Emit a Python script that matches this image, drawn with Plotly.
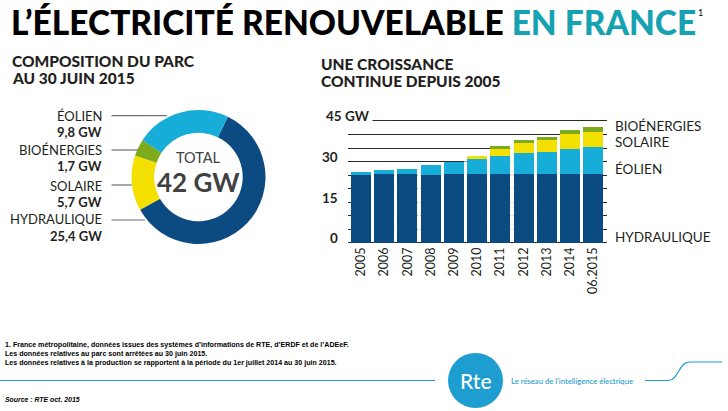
import plotly.graph_objects as go

W, H = 728, 411


def px(x):
    return x / W


def py(y):
    return 1 - y / H


# ---------------- DATA ----------------
years = ["2005", "2006", "2007", "2008", "2009", "2010",
         "2011", "2012", "2013", "2014", "06.2015"]
hydraulique = [25.4, 25.4, 25.4, 25.1, 25.4, 25.4, 25.4, 25.4, 25.4, 25.4, 25.4]
eolien = [0.6, 1.5, 2.0, 3.5, 4.6, 5.7, 6.8, 7.6, 8.3, 9.2, 9.8]
solaire = [0.0, 0.0, 0.0, 0.0, 0.0, 0.8, 2.4, 3.7, 4.2, 5.4, 5.7]
bioenergies = [0.0, 0.0, 0.0, 0.0, 0.0, 0.0, 1.3, 1.3, 1.3, 1.7, 1.7]

y_ticks = [0, 15, 30, 45]
y_tick_text = ["0", "15", "30", "45 GW"]

parc_labels = ["HYDRAULIQUE", "SOLAIRE", "BIOÉNERGIES", "ÉOLIEN"]
parc_values = [25.4, 5.7, 1.7, 9.8]
parc_value_text = ["25,4 GW", "5,7 GW", "1,7 GW", "9,8 GW"]
parc_total_text = "42 GW"

# ---------------- STYLE ----------------
NAVY = "#0b4b82"
LIGHTBLUE = "#16aed8"
YELLOW = "#f4e000"
GREEN = "#7eab1e"
TEAL = "#17a2b2"
RTE_BLUE = "#1d9dd0"
TXT = "#231f20"
FONT = "Lato"

fig = go.Figure()

# Donut
fig.add_trace(go.Pie(
    values=parc_values, labels=parc_labels, hole=0.66, sort=False,
    direction="clockwise", rotation=26,
    marker=dict(colors=[NAVY, YELLOW, GREEN, LIGHTBLUE], line=dict(width=0)),
    textinfo="none", showlegend=False,
    domain=dict(x=[px(131.5), px(265.5)], y=[py(244), py(110)]),
))

# Stacked bars
for name, vals, col in [("Hydraulique", hydraulique, NAVY),
                        ("Éolien", eolien, LIGHTBLUE),
                        ("Solaire", solaire, YELLOW),
                        ("Bioénergies", bioenergies, GREEN)]:
    fig.add_trace(go.Bar(x=years, y=vals, name=name, marker=dict(color=col, line=dict(width=0)),
                         showlegend=False, xaxis="x", yaxis="y"))

totals = [h + e + s + b for h, e, s, b in zip(hydraulique, eolien, solaire, bioenergies)]

shapes = []
# white separators between bars (hide gridlines in gaps)
for i in range(len(years) - 1):
    shapes.append(dict(type="line", xref="x", yref="y", layer="between",
                       x0=i + 0.5, x1=i + 0.5, y0=0.35, y1=min(totals[i], totals[i + 1]),
                       line=dict(color="white", width=3.4)))

# donut leader lines
leader_y = [220, 185, 150, 115.7]
leader_x1 = [145, 131.7, 138, 166.7]
for yy, xx in zip(leader_y, leader_x1):
    shapes.append(dict(type="line", xref="paper", yref="paper",
                       x0=px(111.5), x1=px(xx), y0=py(yy), y1=py(yy),
                       line=dict(color="#6d6e71", width=1.2)))

# footer decoration
shapes.append(dict(type="line", xref="paper", yref="paper", x0=px(0), x1=px(435),
                   y0=py(380.5), y1=py(380.5), line=dict(color=RTE_BLUE, width=1.2)))
path = "M {},{} L {},{} C {},{} {},{} {},{} L {},{}".format(
    px(645), py(380.5), px(668), py(380.5),
    px(679), py(380.5), px(678), py(362), px(690), py(362), px(722), py(362))
shapes.append(dict(type="path", xref="paper", yref="paper", path=path,
                   line=dict(color=RTE_BLUE, width=1.2)))
shapes.append(dict(type="circle", xref="paper", yref="paper",
                   x0=px(448), x1=px(503), y0=py(408), y1=py(353),
                   fillcolor=RTE_BLUE, line=dict(width=0)))

ann = []


def A(text, x, y, size, color=TXT, weight=400, xanchor="left", yanchor="middle", **kw):
    d = dict(text=text, xref="paper", yref="paper", x=px(x), y=py(y), showarrow=False,
             xanchor=xanchor, yanchor=yanchor,
             font=dict(family=FONT, size=size, color=color, weight=weight))
    d.update(kw)
    ann.append(d)


# Title
A("L’ÉLECTRICITÉ RENOUVELABLE <span style='color:%s'>EN FRANCE</span>" % TEAL,
  9, 22, 33.5, color="#000000", weight=900)
A("1", 696, 13, 9, color="#000000")

# Section headings
A("COMPOSITION DU PARC", 10, 61, 15.5, weight=900)
A("AU 30 JUIN 2015", 10, 78, 15.5, weight=900)
A("UNE CROISSANCE", 319, 64, 15.5, weight=900)
A("CONTINUE DEPUIS 2005", 319, 81, 15.5, weight=900)

# Donut labels
label_y = [219.5, 185.5, 150, 115.5]
for lab, val, yy in zip(parc_labels, parc_value_text, label_y):
    A(lab, 104, yy, 13, xanchor="right")
    A(val, 104, yy + 16, 13, weight=700, xanchor="right")

# Donut centre
A("TOTAL", 198.5, 157, 14.5, color="#414042", xanchor="center")
A(parc_total_text, 198.5, 182, 26, color="#414042", weight=700, xanchor="center")

# y tick labels
for v, t in zip(y_ticks, y_tick_text):
    if t.endswith("GW"):
        ann.append(dict(text=t, xref="paper", yref="y", x=px(323), y=v, yshift=4.5,
                        xanchor="left", yanchor="middle", showarrow=False,
                        bgcolor="white", borderpad=2,
                        font=dict(family=FONT, size=13.5, color=TXT, weight=700)))
    else:
        ann.append(dict(text=t, xref="paper", yref="y", x=px(340), y=v, yshift=4.5,
                        xanchor="right", yanchor="middle", showarrow=False,
                        font=dict(family=FONT, size=13.5, color=TXT, weight=700)))

# right-hand series labels
series_labels = ["BIOÉNERGIES", "SOLAIRE", "ÉOLIEN", "HYDRAULIQUE"]
series_label_y = [43.2, 37.4, 27.3, 2.0]
for t, v in zip(series_labels, series_label_y):
    ann.append(dict(text=t, xref="paper", yref="y", x=px(613), y=v,
                    xanchor="left", yanchor="middle", showarrow=False,
                    font=dict(family=FONT, size=13.5, color=TXT)))

# footer notes
notes = ["1. France métropolitaine, données issues des systèmes d’informations de RTE, d’ERDF et de l’ADEeF.",
         "Les données relatives au parc sont arrêtées au 30 juin 2015.",
         "Les données relatives à la production se rapportent à la période du 1er juillet 2014 au 30 juin 2015."]
ann.append(dict(text="<br>".join(notes), xref="paper", yref="paper", x=px(3), y=py(338.5),
                xanchor="left", yanchor="top", align="left", showarrow=False,
                font=dict(family="Liberation Sans", size=7.1, color="#000000", weight=700)))
ann.append(dict(text="<i>Source : RTE oct. 2015</i>", xref="paper", yref="paper", x=px(3), y=py(399.5),
                xanchor="left", yanchor="middle", showarrow=False,
                font=dict(family="Liberation Sans", size=6.9, color="#000000", weight=700)))

# logo
A("Rte", 475.5, 380, 21, color="white", weight=500, xanchor="center")
A("Le réseau de l’intelligence électrique", 509, 380.5, 7.7, color=RTE_BLUE, weight=500)

fig.update_layout(
    width=W, height=H, margin=dict(l=0, r=0, t=0, b=0),
    paper_bgcolor="white", plot_bgcolor="white",
    barmode="stack", bargap=0.14,
    xaxis=dict(domain=[px(348), px(607)], type="category", range=[-0.56, 10.59],
               tickangle=-90, tickfont=dict(family=FONT, size=12.5, color=TXT),
               showgrid=False, showline=False, zeroline=False, ticks="", fixedrange=True),
    yaxis=dict(domain=[py(244.1), py(119.6)], range=[-0.5, 45.5], tick0=0, dtick=5,
               showticklabels=False, showgrid=True, gridcolor="#2b2b2b", gridwidth=1,
               zeroline=True, zerolinecolor="#2b2b2b", zerolinewidth=1, ticks="",
               fixedrange=True),
    shapes=shapes, annotations=ann,
)

fig.write_html("out.html", config={"displayModeBar": False},
               post_script="document.body.style.margin='0';document.body.style.overflow='hidden';")
